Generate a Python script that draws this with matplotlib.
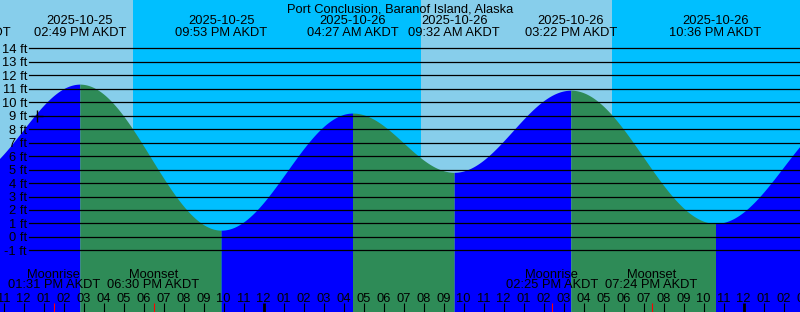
import numpy as np
import pandas as pd
import matplotlib
matplotlib.use("Agg")
import matplotlib.pyplot as plt

plt.rcParams['font.family'] = ['Liberation Sans', 'DejaVu Sans']
plt.rcParams['font.size'] = 9.3

# chart data
title = "Port Conclusion, Baranof Island, Alaska"
tide_times = ["2025-10-25 09:05", "2025-10-25 14:49", "2025-10-25 21:53", "2025-10-26 04:27",
              "2025-10-26 09:32", "2025-10-26 15:22", "2025-10-26 22:36", "2025-10-27 05:25"]
tide_heights = [4.4, 11.35, 0.5, 9.2, 4.8, 10.9, 1.0, 9.4]
sunsets = ["2025-10-25 17:28", "2025-10-26 17:25"]
sunrises = ["2025-10-26 07:52", "2025-10-27 07:55"]
moon_times = ["2025-10-25 13:31", "2025-10-25 18:30", "2025-10-26 14:25", "2025-10-26 19:24"]
moon_events = ["Moonrise", "Moonset", "Moonrise", "Moonset"]
now_time = "2025-10-25 12:41"
now_height = 9.0
ft_levels = list(range(-1, 15))

base = pd.Timestamp("2025-10-25 00:00")

def hours(ts):
    # hours since the start of 2025-10-25
    return (pd.to_datetime(ts) - base) / pd.Timedelta(hours=1)

t_ext = np.array([hours(t) for t in tide_times])
h_ext = np.array(tide_heights)

W, H = 800, 312
fig = plt.figure(figsize=(W / 100, H / 100), dpi=100)
fig.patch.set_facecolor('#87CEEB')
ax = fig.add_axes([0, 0, 1, 1])
ax.set_axis_off()

# 20 px per hour, 3 PM sits at x=83.5 px; 13.46 px per ft, 0 ft at y=236.9 px
x_lo = 15 - 83.5 / 20
x_hi = x_lo + W / 20
y_lo = -(H - 236.9) / 13.46
y_hi = 236.9 / 13.46
ax.set_xlim(x_lo, x_hi)
ax.set_ylim(y_lo, y_hi)

def ypx(p):
    # pixel row from top -> axes fraction
    return 1 - p / H

# night shading
for s, r in zip(sunsets, sunrises):
    ax.axvspan(hours(s), hours(r), color='#00BFFF', lw=0, zorder=0)

# tide curve, rising blue / falling green
for i in range(len(t_ext) - 1):
    t0, t1 = t_ext[i], t_ext[i + 1]
    h0, h1 = h_ext[i], h_ext[i + 1]
    tt = np.linspace(t0, t1, 300)
    hh = h0 + (h1 - h0) * (1 - np.cos(np.pi * (tt - t0) / (t1 - t0))) / 2
    col = '#0000FF' if h1 > h0 else '#2E8B57'
    ax.fill_between(tt, hh, y_lo, color=col, lw=0, zorder=1)

# grid lines and ft labels
for lv in ft_levels:
    ax.axhline(lv, xmin=29.3 / W, xmax=1, color='black', lw=0.9, zorder=2)
    ax.text(x_lo + 27 / 20, lv, f"{lv} ft", ha='right', va='center_baseline', zorder=3)

# current tide marker
ax.plot(hours(now_time), now_height, marker='+', ms=8, mew=1, color='black', zorder=3)

# extreme labels at the top
xt = ax.get_xaxis_transform()
for t, ts in zip(t_ext, tide_times):
    d = pd.to_datetime(ts)
    ax.text(t, ypx(24), d.strftime("%Y-%m-%d"), ha='center', va='baseline', transform=xt, zorder=3)
    ax.text(t, ypx(36), d.strftime("%I:%M %p AKDT"), ha='center', va='baseline', transform=xt, zorder=3)

ax.text(0.5, ypx(12), title, ha='center', va='baseline', transform=ax.transAxes, zorder=3)

# moon events
for ts, ev in zip(moon_times, moon_events):
    t = hours(ts)
    d = pd.to_datetime(ts)
    ax.text(t, ypx(277.5), ev, ha='center', va='baseline', transform=xt, zorder=3)
    ax.text(t, ypx(288), d.strftime("%I:%M %p AKDT"), ha='center', va='baseline', transform=xt, zorder=3)
    ax.vlines(t, 0, 9 / H, color='red', lw=0.8, transform=xt, zorder=3)

# hour ticks along the bottom
for hr in range(int(np.floor(x_lo)), int(np.ceil(x_hi)) + 1):
    lab = f"{(hr % 12) or 12:02d}"
    ax.text(hr, ypx(301.5), lab, ha='center', va='baseline', transform=xt, zorder=3)
    lw = 2.0 if hr % 24 == 0 else 0.8
    ax.vlines(hr, 0, 9 / H, color='black', lw=lw, transform=xt, zorder=3)

fig.savefig("out.png", dpi=100)
